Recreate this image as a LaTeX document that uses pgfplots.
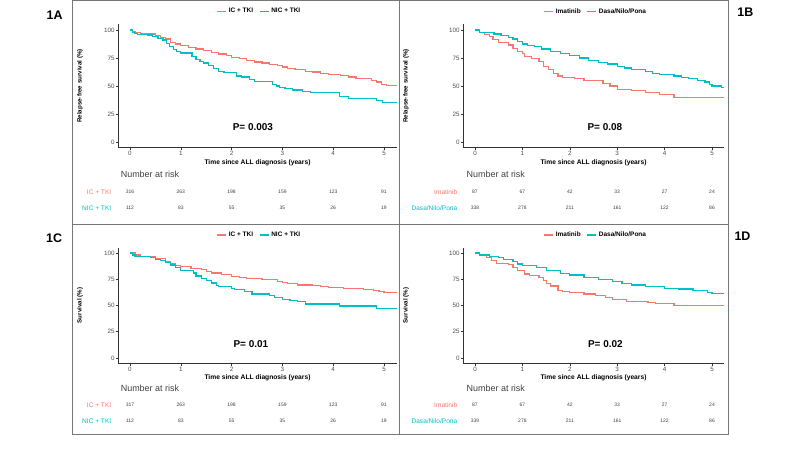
\documentclass[border=0pt]{standalone}
\usepackage{fontspec}
\setmainfont{Liberation Sans}
\usepackage{pgfplots}
\pgfplotsset{compat=1.18}
\definecolor{kmred}{HTML}{F8766D}
\definecolor{kmteal}{HTML}{00BFC4}
\definecolor{framegray}{HTML}{777777}
\definecolor{ticktext}{HTML}{4D4D4D}

\pgfplotsset{
 kmaxis/.style={
  scale only axis, clip=false,
  axis lines=left, axis line style={black!80, line width=0.6bp, -},
  ymin=-5, ymax=105,
  xtick={0,1,2,3,4,5}, ytick={0,25,50,75,100},
  tick align=outside, major tick length=2.5bp,
  tick style={black!80, line width=0.5bp},
  tick label style={font=\fontsize{6.3}{7}\selectfont, text=ticktext, inner sep=0.8bp},
  /pgf/number format/assume math mode=true,
  xlabel={Time since ALL diagnosis (years)},
  xlabel style={font=\bfseries\fontsize{6.7}{8}\selectfont, anchor=center, inner sep=0.5bp},
  ylabel style={font=\bfseries\fontsize{6.2}{7}\selectfont, anchor=center},
  legend columns=-1,
  legend style={draw=none, fill=none, font=\bfseries\fontsize{6.5}{8}\selectfont, anchor=center,
    /tikz/every even column/.append style={column sep=4bp}},
  legend image code/.code={\draw[line width=1.2bp] (0bp,0bp) -- (9bp,0bp);},
 },
 km/.style={const plot, line width=1.2bp},
 risk/.style={draw=none, forget plot, nodes near coords, point meta=explicit symbolic,
   nodes near coords style={font=\fontsize{5}{6}\selectfont, anchor=center, text=black!75}},
}

\begin{document}
\begin{tikzpicture}
\path[use as bounding box] (0bp,0bp) rectangle (800bp,450bp);
% frames
\draw[framegray, line width=1bp] (72bp,15bp) rectangle (728bp,449.5bp);
\draw[framegray, line width=1bp] (399.5bp,15bp) -- (399.5bp,449.5bp);
\draw[framegray, line width=1bp] (72bp,225.5bp) -- (728bp,225.5bp);
% panel labels
\node[font=\bfseries\fontsize{12.5}{14}\selectfont] at (54.7bp,434.3bp) {1A};
\node[font=\bfseries\fontsize{12.5}{14}\selectfont] at (745.3bp,437.3bp) {1B};
\node[font=\bfseries\fontsize{12.5}{14}\selectfont] at (54.2bp,211.7bp) {1C};
\node[font=\bfseries\fontsize{12.5}{14}\selectfont] at (742.5bp,213.3bp) {1D};

% ---------------- Panel A
\begin{axis}[kmaxis, at={(118bp,302.4bp)}, anchor=south west,
  width=279bp, height=123.2bp, xmin=-0.236, xmax=5.256,
  ylabel={Relapse-free survival (\%)},
  ylabel style={at={(axis description cs:-0.136,0.5)}},
  xlabel style={at={(axis description cs:0.5,-0.122)}},
  legend style={at={(axis description cs:0.507,1.105)}}]
\addplot[km, kmred] coordinates {(0,100)(0.05,99)(0.1,98)(0.2,97)(0.35,96.5)(0.5,95)(0.6,93.5)(0.7,92)(0.8,89)(0.9,87.5)(1.0,86)(1.15,84.5)(1.3,83)(1.45,81.5)(1.6,80)(1.75,78.5)(1.9,77)(2.0,75.5)(2.15,74.5)(2.3,73)(2.45,71.5)(2.6,70.5)(2.75,69)(2.9,68)(3.0,67)(3.1,65.5)(3.25,64.5)(3.45,63)(3.6,62.5)(3.75,61)(3.9,60)(4.15,59.5)(4.3,58)(4.45,57)(4.6,56.5)(4.75,55)(4.85,53.5)(4.95,51.5)(5.05,50.6)(5.25,50.6)};
\addplot[km, kmteal] coordinates {(0,100)(0.05,98)(0.1,97)(0.15,96)(0.35,95.5)(0.45,94)(0.55,92.5)(0.65,91)(0.72,88)(0.78,85)(0.85,82.5)(0.92,80.5)(1.0,79.5)(1.22,76.5)(1.3,74)(1.38,72)(1.45,70.5)(1.55,68)(1.65,65.5)(1.75,63)(1.85,62)(2.1,59)(2.2,58)(2.35,56)(2.45,54)(2.8,51.5)(2.88,50)(2.95,49)(3.05,48)(3.2,46.5)(3.4,45)(3.55,44)(4.12,40.5)(4.3,39)(4.85,37)(4.97,35)(5.25,35)};
\legend{IC + TKI, NIC + TKI}
\addplot[risk] coordinates {(0,-44.6)[316] (1,-44.6)[263] (2,-44.6)[198] (3,-44.6)[159] (4,-44.6)[123] (5,-44.6)[91]};
\addplot[risk] coordinates {(0,-58.9)[112] (1,-58.9)[83] (2,-58.9)[55] (3,-58.9)[35] (4,-58.9)[26] (5,-58.9)[19]};
\node[font=\bfseries\fontsize{10}{12}\selectfont] at (axis cs:2.42,13.4) {P= 0.003};
\node[anchor=west, font=\fontsize{9}{11}\selectfont, text=black!75] at (axis cs:-0.25,-28.6) {Number at risk};
\node[anchor=east, font=\fontsize{6.6}{8}\selectfont, text=kmred] at (axis cs:-0.3,-44.6) {IC + TKI};
\node[anchor=east, font=\fontsize{6.6}{8}\selectfont, text=kmteal] at (axis cs:-0.3,-58.9) {NIC + TKI};
\end{axis}

% ---------------- Panel B
\begin{axis}[kmaxis, at={(463bp,302.4bp)}, anchor=south west,
  width=261bp, height=123.2bp, xmin=-0.253, xmax=5.253,
  ylabel={Relapse-free survival (\%)},
  ylabel style={at={(axis description cs:-0.218,0.5)}},
  xlabel style={at={(axis description cs:0.5,-0.122)}},
  legend style={at={(axis description cs:0.509,1.105)}}]
\addplot[km, kmred] coordinates {(0,100)(0.1,98)(0.2,96)(0.3,94)(0.38,91.5)(0.5,88.7)(0.7,86.6)(0.8,83.7)(0.9,81)(1.0,79.2)(1.05,76.3)(1.2,74.8)(1.35,71.8)(1.45,67.4)(1.55,64.4)(1.65,61.5)(1.75,59)(1.85,57.9)(2.1,56.4)(2.3,54.6)(2.7,51.9)(2.85,50)(3.0,47.2)(3.3,46)(3.6,44.2)(3.9,42.1)(4.2,40)(5.25,40)};
\addplot[km, kmteal] coordinates {(0,100)(0.1,98)(0.4,96.4)(0.55,95.3)(0.7,93.5)(0.8,92)(0.9,90)(1.0,87.5)(1.1,86)(1.25,85)(1.4,83)(1.6,81)(1.8,79)(2.0,77)(2.2,75)(2.4,73)(2.6,71)(2.8,69.7)(3.0,67.5)(3.15,66)(3.3,64.4)(3.6,62.9)(3.75,61.5)(3.9,60.5)(4.2,59)(4.35,57.5)(4.5,56.5)(4.7,55)(4.85,53.5)(4.95,51.5)(5.0,50)(5.2,48.5)(5.25,48.5)};
\legend{Imatinib, Dasa/Nilo/Pona}
\addplot[risk] coordinates {(0,-44.6)[87] (1,-44.6)[67] (2,-44.6)[42] (3,-44.6)[33] (4,-44.6)[27] (5,-44.6)[24]};
\addplot[risk] coordinates {(0,-58.9)[338] (1,-58.9)[278] (2,-58.9)[211] (3,-58.9)[161] (4,-58.9)[122] (5,-58.9)[86]};
\node[font=\bfseries\fontsize{10}{12}\selectfont] at (axis cs:2.74,13.4) {P= 0.08};
\node[anchor=west, font=\fontsize{9}{11}\selectfont, text=black!75] at (axis cs:-0.25,-28.6) {Number at risk};
\node[anchor=east, font=\fontsize{6.6}{8}\selectfont, text=kmred] at (axis cs:-0.3,-44.6) {Imatinib};
\node[anchor=east, font=\fontsize{6.6}{8}\selectfont, text=kmteal] at (axis cs:-0.3,-58.9) {Dasa/Nilo/Pona};
\end{axis}

% ---------------- Panel C
\begin{axis}[kmaxis, at={(118bp,86.75bp)}, anchor=south west,
  width=279bp, height=115.5bp, xmin=-0.236, xmax=5.256,
  ylabel={Survival (\%)},
  ylabel style={at={(axis description cs:-0.136,0.5)}},
  xlabel style={at={(axis description cs:0.5,-0.125)}},
  legend style={at={(axis description cs:0.507,1.11)}}]
\addplot[km, kmred] coordinates {(0,100)(0.1,98)(0.2,96.5)(0.5,95)(0.7,92)(0.8,90)(0.9,88)(1.0,87.5)(1.2,85.5)(1.4,84)(1.5,82.5)(1.6,81)(1.8,79.5)(2.0,77.5)(2.15,76.5)(2.3,75.6)(2.6,74.5)(2.9,73)(3.0,72)(3.1,71)(3.3,69.5)(3.6,69)(3.75,68)(3.9,67)(4.2,66.5)(4.6,65.5)(4.8,64.5)(4.9,63.5)(5.0,62.5)(5.25,62.5)};
\addplot[km, kmteal] coordinates {(0,100)(0.05,98)(0.1,96.5)(0.4,95.5)(0.5,94)(0.6,93)(0.7,91)(0.8,88.5)(0.9,86)(1.0,83.5)(1.25,81)(1.3,78)(1.4,76)(1.5,74)(1.6,71.5)(1.7,69)(1.75,68)(2.0,66)(2.05,65)(2.25,63.5)(2.4,61)(2.75,59.5)(2.85,57.5)(3.0,56)(3.15,54.5)(3.3,53.5)(3.45,51.5)(4.12,49.5)(4.85,47)(5.25,47)};
\legend{IC + TKI, NIC + TKI}
\addplot[risk] coordinates {(0,-44.8)[317] (1,-44.8)[263] (2,-44.8)[198] (3,-44.8)[159] (4,-44.8)[123] (5,-44.8)[91]};
\addplot[risk] coordinates {(0,-60)[112] (1,-60)[83] (2,-60)[55] (3,-60)[35] (4,-60)[26] (5,-60)[19]};
\node[font=\bfseries\fontsize{10}{12}\selectfont] at (axis cs:2.38,13) {P= 0.01};
\node[anchor=west, font=\fontsize{9}{11}\selectfont, text=black!75] at (axis cs:-0.25,-28.6) {Number at risk};
\node[anchor=east, font=\fontsize{6.6}{8}\selectfont, text=kmred] at (axis cs:-0.3,-44.8) {IC + TKI};
\node[anchor=east, font=\fontsize{6.6}{8}\selectfont, text=kmteal] at (axis cs:-0.3,-60) {NIC + TKI};
\end{axis}

% ---------------- Panel D
\begin{axis}[kmaxis, at={(463bp,86.75bp)}, anchor=south west,
  width=261bp, height=115.5bp, xmin=-0.253, xmax=5.253,
  ylabel={Survival (\%)},
  ylabel style={at={(axis description cs:-0.218,0.5)}},
  xlabel style={at={(axis description cs:0.5,-0.125)}},
  legend style={at={(axis description cs:0.509,1.11)}}]
\addplot[km, kmred] coordinates {(0,100)(0.1,98)(0.25,96)(0.35,93)(0.45,90)(0.7,89)(0.8,86)(0.9,83.5)(1.05,80)(1.15,78.5)(1.35,77)(1.45,74)(1.5,71)(1.6,68.5)(1.75,64)(1.85,63)(2.0,62)(2.3,61)(2.55,59.5)(2.75,57.5)(2.9,56)(3.1,55.5)(3.2,54)(3.65,53)(3.8,51.8)(4.2,50)(5.25,50)};
\addplot[km, kmteal] coordinates {(0,100)(0.1,98)(0.3,97)(0.5,96)(0.6,94)(0.8,92)(0.9,89.5)(1.0,88)(1.3,86)(1.5,83.5)(1.8,80.5)(2.0,79)(2.3,77)(2.6,75)(2.9,73)(3.1,71)(3.3,69.5)(3.6,68)(4.0,66.5)(4.3,65.8)(4.6,64.5)(4.9,62.5)(5.0,61.5)(5.25,61.5)};
\legend{Imatinib, Dasa/Nilo/Pona}
\addplot[risk] coordinates {(0,-44.8)[87] (1,-44.8)[67] (2,-44.8)[42] (3,-44.8)[33] (4,-44.8)[27] (5,-44.8)[24]};
\addplot[risk] coordinates {(0,-60)[339] (1,-60)[278] (2,-60)[211] (3,-60)[161] (4,-60)[122] (5,-60)[86]};
\node[font=\bfseries\fontsize{10}{12}\selectfont] at (axis cs:2.75,13) {P= 0.02};
\node[anchor=west, font=\fontsize{9}{11}\selectfont, text=black!75] at (axis cs:-0.25,-28.6) {Number at risk};
\node[anchor=east, font=\fontsize{6.6}{8}\selectfont, text=kmred] at (axis cs:-0.3,-44.8) {Imatinib};
\node[anchor=east, font=\fontsize{6.6}{8}\selectfont, text=kmteal] at (axis cs:-0.3,-60) {Dasa/Nilo/Pona};
\end{axis}
\end{tikzpicture}
\end{document}
